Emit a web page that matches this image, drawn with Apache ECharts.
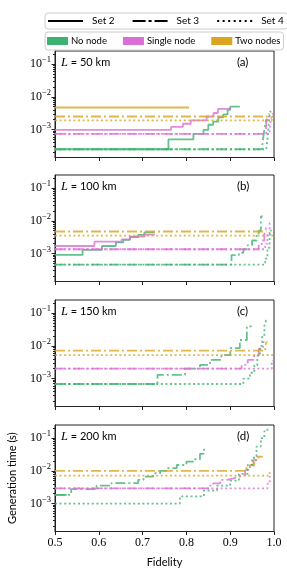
<!DOCTYPE html>
<html><head><meta charset="utf-8">
<script src="https://cdn.jsdelivr.net/npm/echarts@6/dist/echarts.min.js"></script>
<style>html,body{margin:0;padding:0;background:#fff}#c{width:287px;height:568px}</style>
</head><body><div id="c"></div>
<script>
// ---------- data (fidelity, generation time in s) ----------
const xTicks = [0.5, 0.6, 0.7, 0.8, 0.9, 1.0];
const yMajorTicks = [1e-3, 1e-2, 1e-1];
const panelLabels = ['(a)', '(b)', '(c)', '(d)'];
const distancesKm = [50, 100, 150, 200];
const setNames = ['Set 2', 'Set 3', 'Set 4'];
const nodeNames = ['No node', 'Single node', 'Two nodes'];

// Panel (a) L = 50 km
const a_noNode_set2 = [[0.5,2.5e-4],[0.759,5.0e-4],[0.816,7.4e-4],[0.839,9.8e-4],[0.85,1.4e-3],[0.861,1.75e-3],[0.873,2.35e-3],[0.884,2.9e-3],[0.894,4.0e-3],[0.9,5.0e-3],[0.922,5.0e-3]];
const a_single_set2 = [[0.5,9.8e-4],[0.765,1.2e-3],[0.792,1.5e-3],[0.81,1.9e-3],[0.846,2.5e-3],[0.862,3.2e-3],[0.872,4.3e-3],[0.902,4.3e-3]];
const a_two_set2    = [[0.5,4.7e-3],[0.806,4.7e-3]];
const a_noNode_set3 = [[0.5,2.5e-4],[0.972,2.5e-4],[0.975,5e-4],[0.978,1e-3],[0.982,2e-3],[0.985,2e-3]];
const a_single_set3 = [[0.5,7.4e-4],[0.975,7.4e-4],[0.982,1.5e-3],[0.986,2.5e-3],[0.99,2.5e-3]];
const a_two_set3    = [[0.5,2.5e-3],[0.98,2.5e-3],[0.985,3e-3],[0.99,3e-3]];
const a_noNode_set4 = [[0.5,2.5e-4],[0.982,2.5e-4],[0.985,5e-4],[0.988,1.5e-3],[0.991,3.5e-3],[0.994,3.5e-3]];
const a_single_set4 = [[0.5,7.4e-4],[0.99,1e-3],[0.993,2e-3],[0.996,3e-3],[0.998,3e-3]];
const a_two_set4    = [[0.5,1.9e-3],[0.99,1.9e-3],[0.995,2.5e-3],[0.998,2.5e-3]];

// Panel (b) L = 100 km
const b_noNode_set2 = [[0.5,9.1e-4],[0.563,1.3e-3],[0.607,1.7e-3],[0.639,2.2e-3],[0.656,2.6e-3],[0.671,3.2e-3],[0.69,3.7e-3],[0.704,4.4e-3],[0.728,4.4e-3]];
const b_single_set2 = [[0.5,1.7e-3],[0.59,2.3e-3],[0.652,2.7e-3],[0.671,3.3e-3],[0.705,3.8e-3],[0.728,3.8e-3]];
const b_two_set2    = [];
const b_noNode_set3 = [[0.5,4.6e-4],[0.903,9e-4],[0.92,1.05e-3],[0.93,1.35e-3],[0.94,1.8e-3],[0.95,2.5e-3],[0.96,3.5e-3],[0.965,5e-3],[0.97,1.35e-2],[0.974,1.35e-2]];
const b_single_set3 = [[0.5,1.35e-3],[0.957,1.35e-3],[0.965,1.8e-3],[0.972,2.5e-3],[0.978,4e-3],[0.982,6e-3],[0.985,6e-3]];
const b_two_set3    = [[0.5,4.7e-3],[0.983,4.7e-3]];
const b_noNode_set4 = [[0.5,4.6e-4],[0.975,4.6e-4],[0.98,7e-4],[0.985,1.5e-3],[0.99,3e-3],[0.992,5e-3],[0.995,5e-3]];
const b_single_set4 = [[0.5,1.35e-3],[0.98,2e-3],[0.985,4e-3],[0.99,8.5e-3],[0.993,8.5e-3]];
const b_two_set4    = [[0.5,3.5e-3],[1.0,3.5e-3]];

// Panel (c) L = 150 km
const c_noNode_set2 = [];
const c_single_set2 = [];
const c_two_set2    = [];
const c_noNode_set3 = [[0.5,6.8e-4],[0.734,1.3e-3],[0.797,2e-3],[0.831,2.6e-3],[0.854,3.7e-3],[0.88,5.2e-3],[0.9,8.5e-3],[0.922,1.5e-2],[0.938,3.9e-2],[0.949,3.9e-2]];
const c_single_set3 = [[0.5,2e-3],[0.926,2.6e-3],[0.94,3.7e-3],[0.955,5e-3],[0.965,8e-3],[0.975,1.3e-2],[0.978,1.3e-2]];
const c_two_set3    = [[0.5,7.1e-3],[0.975,7.1e-3],[0.98,1e-2],[0.983,1.3e-2],[0.985,1.3e-2]];
const c_noNode_set4 = [[0.5,6.8e-4],[0.922,6.8e-4],[0.93,1e-3],[0.945,1.5e-3],[0.955,2.5e-3],[0.962,5e-3],[0.968,1e-2],[0.973,2e-2],[0.978,4e-2],[0.982,6e-2],[0.984,6e-2]];
const c_single_set4 = [[0.5,2e-3],[0.99,2e-3],[0.995,3.5e-3],[0.998,3.5e-3]];
const c_two_set4    = [[0.5,5.2e-3],[1.0,5.2e-3]];

// Panel (d) L = 200 km
const d_noNode_set2 = [[0.5,1.85e-3],[0.527,1.85e-3]];
const d_single_set2 = [];
const d_two_set2    = [];
const d_noNode_set3 = [[0.5,1.85e-3],[0.537,2.75e-3],[0.595,3.5e-3],[0.629,4.2e-3],[0.69,5.3e-3],[0.702,6.6e-3],[0.724,8.4e-3],[0.74,1e-2],[0.755,1.2e-2],[0.778,1.5e-2],[0.8,1.9e-2],[0.816,2.25e-2],[0.831,3.3e-2],[0.84,4.9e-2],[0.843,4.9e-2]];
const d_single_set3 = [[0.5,2.9e-3],[0.854,3.5e-3],[0.861,4.1e-3],[0.877,5.3e-3],[0.892,5.9e-3],[0.907,6.6e-3],[0.922,7.5e-3],[0.934,1.05e-2],[0.941,1.3e-2],[0.953,2.1e-2],[0.96,2.7e-2],[0.964,2.7e-2]];
const d_two_set3    = [[0.5,1e-2],[0.934,1.2e-2],[0.945,1.5e-2],[0.955,2.2e-2],[0.965,2.7e-2],[0.975,2.7e-2]];
const d_noNode_set4 = [[0.5,1e-3],[0.785,1.65e-3],[0.84,2.5e-3],[0.87,3.5e-3],[0.9,5e-3],[0.92,8e-3],[0.94,1.5e-2],[0.95,2.5e-2],[0.96,5.5e-2],[0.97,1e-1],[0.978,1.6e-1],[0.985,2e-1],[0.987,2e-1]];
const d_single_set4 = [[0.5,2.9e-3],[0.98,2.9e-3],[0.985,4e-3],[0.99,6.6e-3],[0.993,6.6e-3]];
const d_two_set4    = [[0.5,7.1e-3],[0.985,7.1e-3],[0.99,9e-3],[0.995,9e-3]];

const panelData = [
  [[a_noNode_set2,a_single_set2,a_two_set2],[a_noNode_set3,a_single_set3,a_two_set3],[a_noNode_set4,a_single_set4,a_two_set4]],
  [[b_noNode_set2,b_single_set2,b_two_set2],[b_noNode_set3,b_single_set3,b_two_set3],[b_noNode_set4,b_single_set4,b_two_set4]],
  [[c_noNode_set2,c_single_set2,c_two_set2],[c_noNode_set3,c_single_set3,c_two_set3],[c_noNode_set4,c_single_set4,c_two_set4]],
  [[d_noNode_set2,d_single_set2,d_two_set2],[d_noNode_set3,d_single_set3,d_two_set3],[d_noNode_set4,d_single_set4,d_two_set4]]
];

// ---------- style ----------
const nodeColors = ['#3cb371', '#da70d6', '#daa520'];
const lineColorsAlpha = ['rgba(60,179,113,0.8)', 'rgba(218,112,214,0.8)', 'rgba(218,165,32,0.8)'];
const dashTypes = ['solid', [10, 3, 2, 3], [2, 2.6]];
const legendIcons = [
  'path://M0,0H35V1.8H0Z',
  'path://M0,0H13V1.8H0Z M16,0H19V1.8H16Z M22,0H35V1.8H22Z',
  'path://M0,0H2V1.8H0Z M5.5,0H7.5V1.8H5.5Z M11,0H13V1.8H11Z M16.5,0H18.5V1.8H16.5Z M22,0H24V1.8H22Z M27.5,0H29.5V1.8H27.5Z M33,0H35V1.8H33Z'
];
const Y_MIN = 1.4e-4, Y_MAX = 0.25;
const gridTops = [51, 175, 300, 425];
const GRID_H = 106.5, GRID_L = 55, GRID_R = 13;
const SERIF = '"Liberation Serif", "DejaVu Serif", serif';
const SANS = 'Lato, "Liberation Sans", sans-serif';

const minorTicks = [];
for (let e = -4; e <= -1; e++) for (let m = 2; m <= 9; m++) {
  const v = m * Math.pow(10, e);
  if (v >= Y_MIN && v <= Y_MAX) minorTicks.push(v);
}
const supMap = {'-':'\u2212'};

const grids = [], xAxes = [], yAxes = [], series = [], graphics = [];
gridTops.forEach((top, i) => {
  grids.push({left: GRID_L, right: GRID_R, top: top, height: GRID_H, show: true,
    borderColor: '#222', borderWidth: 1, backgroundColor: 'transparent', outerBoundsMode: 'none'});
  const last = i === gridTops.length - 1;
  xAxes.push({type: 'value', gridIndex: i, min: 0.5, max: 1.0, interval: 0.1,
    name: last ? 'Fidelity' : '', nameLocation: 'middle', nameGap: 25,
    nameTextStyle: {fontFamily: SANS, fontSize: 11, color: '#000'},
    axisLine: {show: true, onZero: false, lineStyle: {color: '#222', width: 1}},
    axisTick: {show: true, inside: false, length: 3.5, lineStyle: {color: '#222'}},
    axisLabel: {show: last, fontFamily: SERIF, fontSize: 12, color: '#000', margin: 5,
      formatter: v => v.toFixed(1)},
    splitLine: {show: false}});
  yAxes.push({type: 'log', logBase: 10, gridIndex: i, min: Y_MIN, max: Y_MAX, position: 'left',
    name: last ? 'Generation time (s)' : '', nameLocation: 'middle', nameGap: 37,
    nameTextStyle: {fontFamily: SANS, fontSize: 11, color: '#000'},
    axisLine: {show: true, lineStyle: {color: '#222', width: 1}},
    axisTick: {show: true, inside: false, length: 3.5, customValues: yMajorTicks, lineStyle: {color: '#222'}},
    axisLabel: {show: true, customValues: yMajorTicks, margin: 4, color: '#000',
      formatter: v => {
        const e = Math.round(Math.log10(v));
        const s = String(e).split('').map(ch => supMap[ch] || ch).join('');
        return '{b|10}{s|' + s + '}';
      },
      rich: {b: {fontFamily: SERIF, fontSize: 12, color: '#000'},
             s: {fontFamily: SERIF, fontSize: 8.5, color: '#000', verticalAlign: 'top', padding: [0, 0, 8, 0]}}},
    splitLine: {show: false}});
  yAxes.push({type: 'log', logBase: 10, gridIndex: i, min: Y_MIN, max: Y_MAX, position: 'left',
    axisLine: {show: false},
    axisTick: {show: true, inside: false, length: 2, customValues: minorTicks, lineStyle: {color: '#222'}},
    axisLabel: {show: false}, splitLine: {show: false}});

  panelData[i].forEach((bySet, si) => {
    bySet.forEach((pts, ni) => {
      if (!pts.length) return;
      series.push({type: 'line', xAxisIndex: i, yAxisIndex: 2 * i, data: pts, step: 'end',
        symbol: 'none', silent: true, animation: false, clip: true,
        lineStyle: {color: lineColorsAlpha[ni], width: 1.8, type: dashTypes[si], cap: 'butt'}});
    });
  });

  graphics.push({type: 'text', left: 61, top: top + 5, silent: true,
    style: {text: '{i|L} = ' + distancesKm[i] + ' km', fontFamily: SANS, fontSize: 11, fill: '#000',
      rich: {i: {fontFamily: SERIF, fontStyle: 'italic', fontSize: 12.5, fill: '#000'}}}});
  graphics.push({type: 'text', left: 237, top: top + 5, silent: true,
    style: {text: panelLabels[i], fontFamily: SANS, fontSize: 11.5, fill: '#000'}});
});

// legend dummy series
setNames.forEach((n, k) => series.push({type: 'line', name: n, xAxisIndex: 0, yAxisIndex: 0, data: [],
  symbol: 'none', lineStyle: {color: '#000', width: 1.8, type: dashTypes[k]}, itemStyle: {color: '#000'}}));
nodeNames.forEach((n, k) => series.push({type: 'line', name: n, xAxisIndex: 0, yAxisIndex: 0, data: [],
  symbol: 'none', lineStyle: {color: nodeColors[k]}, itemStyle: {color: nodeColors[k]}}));

const chart = echarts.init(document.getElementById('c'), null, {renderer: 'canvas'});
chart.setOption({
  animation: false,
  backgroundColor: '#fff',
  grid: grids, xAxis: xAxes, yAxis: yAxes, series: series, graphic: graphics,
  legend: [
    {data: setNames.map((n, k) => ({name: n, icon: legendIcons[k]})), left: 45, top: 13, width: 238,
     orient: 'horizontal', itemWidth: 35, itemHeight: 10, itemGap: 18, symbolKeepAspect: true,
     padding: [3, 4, 3, 3], borderColor: '#ccc', borderWidth: 1, borderRadius: 3, backgroundColor: '#fff',
     selectedMode: false, textStyle: {fontFamily: SANS, fontSize: 10, color: '#000', padding: [0, 0, 0, 4]}},
    {data: nodeNames, left: 45, top: 32, width: 238, orient: 'horizontal', itemWidth: 21, itemHeight: 8,
     itemGap: 16, icon: 'rect',
     padding: [4, 3, 4, 2], borderColor: '#ccc', borderWidth: 1, borderRadius: 3, backgroundColor: '#fff',
     selectedMode: false, textStyle: {fontFamily: SANS, fontSize: 9.5, color: '#000', padding: [0, 0, 0, -2]}}
  ]
});
</script></body></html>
